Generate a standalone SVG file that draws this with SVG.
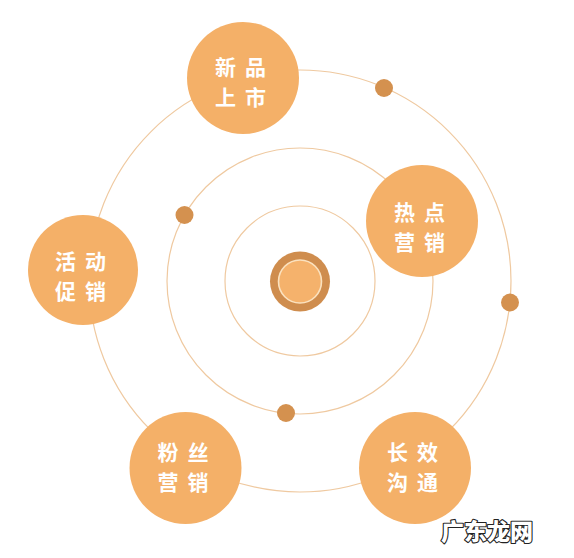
<svg xmlns="http://www.w3.org/2000/svg" width="574" height="558" viewBox="0 0 574 558">
<style>
.orbit{fill:none;stroke:#EFC9A0;stroke-width:1.2}
.node{fill:#F4B068}
.dot{fill:#D4914F}
.lbl{font-family:"Noto Sans CJK SC","Noto Sans",sans-serif;font-size:21px;font-weight:bold;fill:#FFFFFF;text-anchor:middle;letter-spacing:9px}
.wm{font-family:"Noto Sans CJK SC",sans-serif;font-size:23px;font-weight:900;fill:#FFFFFF;stroke:#222222;stroke-width:2.2;paint-order:stroke;stroke-linejoin:round}
</style>
<rect width="574" height="558" fill="#FFFFFF"/>
<g id="connectors">
<circle class="orbit" cx="300" cy="281" r="211"/>
<circle class="orbit" cx="300" cy="281" r="133"/>
<circle class="orbit" cx="300" cy="281" r="75"/>
</g>
<g id="dots">
<circle class="dot" cx="384" cy="88" r="9"/>
<circle class="dot" cx="510" cy="302.5" r="9"/>
<circle class="dot" cx="184.5" cy="215" r="9"/>
<circle class="dot" cx="286" cy="413" r="9"/>
</g>
<g id="center">
<circle cx="300" cy="281.5" r="30" fill="#CF8D4E"/>
<circle cx="300" cy="281.5" r="21.5" fill="#F5B26C" stroke="#FBE2BF" stroke-width="1.6"/>
</g>
<g id="node-xinpin">
<circle class="node" cx="243" cy="78" r="56"/>
<text class="lbl" x="245" y="75">新品</text>
<text class="lbl" x="245" y="105">上市</text>
</g>
<g id="node-redian">
<circle class="node" cx="422" cy="221" r="56"/>
<text class="lbl" x="424" y="220">热点</text>
<text class="lbl" x="424" y="250">营销</text>
</g>
<g id="node-huodong">
<circle class="node" cx="83" cy="270" r="55"/>
<text class="lbl" x="85" y="269">活动</text>
<text class="lbl" x="85" y="299">促销</text>
</g>
<g id="node-fensi">
<circle class="node" cx="185.5" cy="468" r="56"/>
<text class="lbl" x="187.5" y="460">粉丝</text>
<text class="lbl" x="187.5" y="490">营销</text>
</g>
<g id="node-changxiao">
<circle class="node" cx="415" cy="468" r="56"/>
<text class="lbl" x="417" y="460">长效</text>
<text class="lbl" x="417" y="490">沟通</text>
</g>
<text class="wm" x="441" y="540">广东龙网</text>
</svg>
